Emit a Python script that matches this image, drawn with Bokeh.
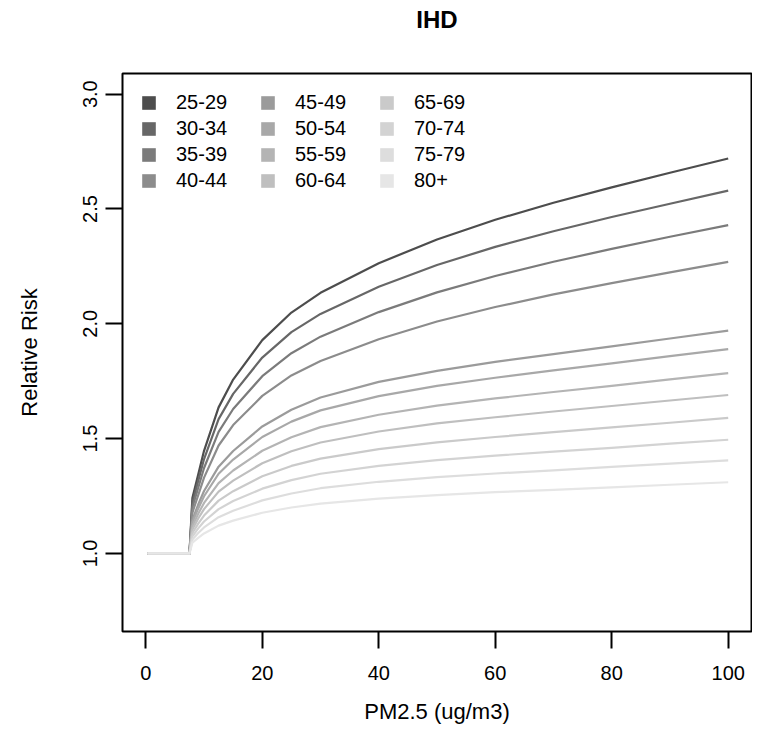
from bokeh.plotting import figure
from bokeh.models import (Range1d, Legend, LegendItem, FixedTicker,
                          NumeralTickFormatter, LinearAxis, Title)
from bokeh.embed import file_html
from bokeh.resources import INLINE

# PM2.5 concentration (ug/m3)
pm = [0.3, 7.5, 8, 9, 10, 12.5, 15, 20, 25, 30, 40, 50, 60, 70, 80, 90, 100]

ages = ["25-29", "30-34", "35-39", "40-44", "45-49", "50-54",
        "55-59", "60-64", "65-69", "70-74", "75-79", "80+"]

colors = ["#4D4D4D", "#676767", "#7B7B7B", "#8C8C8C", "#9B9B9B", "#A8A8A8",
          "#B4B4B4", "#BFBFBF", "#CACACA", "#D3D3D3", "#DDDDDD", "#E6E6E6"]

rr_25_29 = [1, 1, 1.241, 1.344, 1.447, 1.636, 1.757, 1.929, 2.049, 2.135, 2.264, 2.367, 2.453, 2.527, 2.594, 2.658, 2.72]
rr_30_34 = [1, 1, 1.221, 1.316, 1.411, 1.585, 1.695, 1.853, 1.964, 2.043, 2.161, 2.256, 2.335, 2.403, 2.465, 2.523, 2.58]
rr_35_39 = [1, 1, 1.200, 1.286, 1.372, 1.529, 1.629, 1.772, 1.872, 1.944, 2.051, 2.137, 2.208, 2.270, 2.326, 2.379, 2.43]
rr_40_44 = [1, 1, 1.178, 1.254, 1.330, 1.470, 1.559, 1.686, 1.775, 1.838, 1.933, 2.010, 2.073, 2.128, 2.177, 2.224, 2.27]
rr_45_49 = [1, 1, 1.146, 1.213, 1.272, 1.378, 1.446, 1.553, 1.626, 1.679, 1.747, 1.795, 1.834, 1.868, 1.902, 1.936, 1.97]
rr_50_54 = [1, 1, 1.134, 1.196, 1.249, 1.347, 1.409, 1.507, 1.574, 1.623, 1.685, 1.730, 1.765, 1.797, 1.828, 1.859, 1.89]
rr_55_59 = [1, 1, 1.118, 1.173, 1.220, 1.306, 1.361, 1.447, 1.506, 1.550, 1.604, 1.644, 1.675, 1.703, 1.730, 1.758, 1.785]
rr_60_64 = [1, 1, 1.104, 1.152, 1.193, 1.269, 1.317, 1.393, 1.445, 1.483, 1.531, 1.566, 1.593, 1.618, 1.642, 1.666, 1.69]
rr_65_69 = [1, 1, 1.089, 1.130, 1.165, 1.230, 1.271, 1.336, 1.381, 1.413, 1.454, 1.484, 1.507, 1.528, 1.549, 1.569, 1.59]
rr_70_74 = [1, 1, 1.074, 1.109, 1.139, 1.193, 1.228, 1.282, 1.319, 1.347, 1.381, 1.406, 1.426, 1.443, 1.460, 1.478, 1.495]
rr_75_79 = [1, 1, 1.061, 1.089, 1.113, 1.158, 1.186, 1.231, 1.261, 1.284, 1.312, 1.332, 1.348, 1.362, 1.377, 1.391, 1.405]
rr_80 = [1, 1, 1.047, 1.068, 1.087, 1.121, 1.143, 1.177, 1.200, 1.217, 1.239, 1.254, 1.267, 1.277, 1.288, 1.299, 1.31]

series = [rr_25_29, rr_30_34, rr_35_39, rr_40_44, rr_45_49, rr_50_54,
          rr_55_59, rr_60_64, rr_65_69, rr_70_74, rr_75_79, rr_80]

x_ticks = [0, 20, 40, 60, 80, 100]
y_ticks = [1.0, 1.5, 2.0, 2.5, 3.0]

FONT = "Liberation Sans"
NAN = float("nan")

p = figure(width=752, height=727, output_backend="svg", toolbar_location=None,
           x_range=Range1d(-4, 104), y_range=Range1d(0.66, 3.09),
           min_border_left=122, min_border_right=1,
           min_border_top=73, min_border_bottom=96)

xa = p.below[0]
ya = p.left[0]

p.title.text = ""

# invisible spacer between the frame and the title (one hidden tick, empty label)
spacer = LinearAxis(ticker=FixedTicker(ticks=[50]), axis_line_color=None,
                    major_tick_line_color=None, minor_tick_line_color=None,
                    major_tick_in=0, major_tick_out=35, minor_tick_in=0,
                    minor_tick_out=0, major_label_standoff=0,
                    major_label_overrides={50: ""},
                    major_label_text_font_size="1px",
                    major_label_text_color=None)
p.add_layout(spacer, "above")

title = Title(text="IHD", align="center", vertical_align="top",
              text_font=FONT, text_font_size="24px", text_font_style="bold",
              text_color="black", standoff=8)
p.add_layout(title, "above")

p.background_fill_color = "white"
p.border_fill_color = "white"
p.outline_line_color = "black"
p.outline_line_width = 2
p.xgrid.visible = False
p.ygrid.visible = False

for ax in (xa, ya):
    ax.axis_line_color = None
    ax.major_tick_in = 0
    ax.major_tick_out = 17
    ax.major_tick_line_width = 2
    ax.major_tick_line_color = "black"
    ax.minor_tick_line_color = None
    ax.major_label_text_font = FONT
    ax.major_label_text_font_size = "20px"
    ax.major_label_text_font_style = "normal"
    ax.major_label_text_color = "black"
    ax.axis_label_text_font = FONT
    ax.axis_label_text_font_size = "22px"
    ax.axis_label_text_font_style = "normal"
    ax.axis_label_text_color = "black"

xa.ticker = FixedTicker(ticks=x_ticks)
xa.major_label_standoff = 17
xa.axis_label = "PM2.5 (ug/m3)"
xa.axis_label_standoff = 16

ya.ticker = FixedTicker(ticks=y_ticks)
ya.formatter = NumeralTickFormatter(format="0.0")
ya.major_label_orientation = "vertical"
ya.major_label_standoff = 8
ya.axis_label = "Relative Risk"
ya.axis_label_standoff = 39

for vals, c in zip(series, colors):
    p.line(pm, vals, line_color=c, line_width=2.2, line_join="round")

items = []
for age, c in zip(ages, colors):
    r = p.quad(left=[NAN], right=[NAN], top=[NAN], bottom=[NAN],
               fill_color=c, line_color=None)
    items.append(LegendItem(label=age, renderers=[r]))

legend = Legend(items=items, location="top_left", orientation="vertical", nrows=4,
                glyph_width=17, glyph_height=17, label_standoff=19, label_width=80,
                label_height=20, spacing=3, margin=18, padding=0,
                border_line_color=None, background_fill_alpha=0,
                label_text_font=FONT, label_text_font_size="20px",
                label_text_color="black")
p.add_layout(legend)

open("out.html", "w").write(file_html(p, INLINE))
